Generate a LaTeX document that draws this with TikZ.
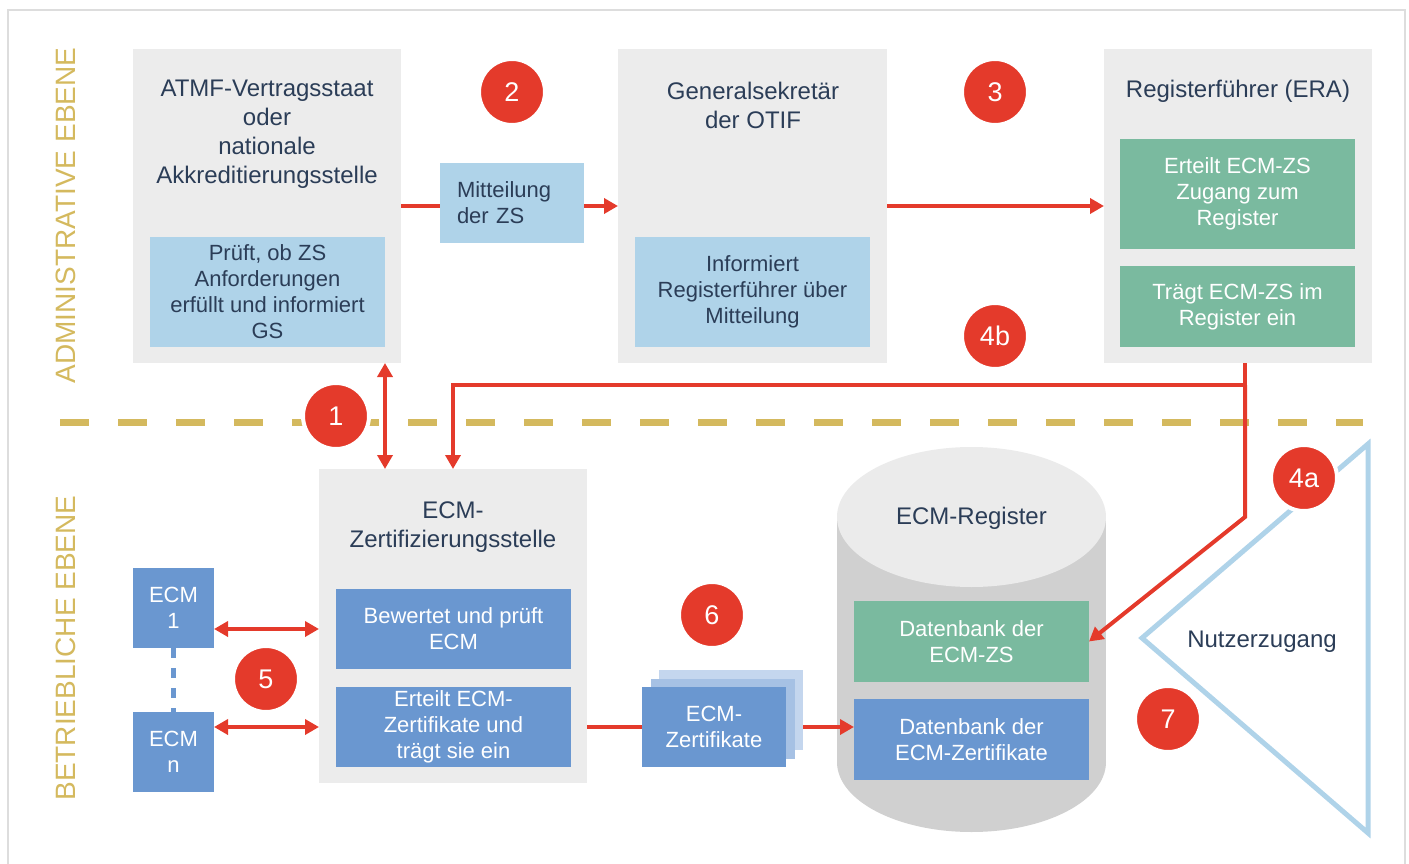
\documentclass[tikz,border=0pt]{standalone}
\usepackage{fontspec}
\setmainfont{Liberation Sans}
\usetikzlibrary{arrows.meta,calc}

\definecolor{boxgrey}{HTML}{ECECEC}
\definecolor{lightblue}{HTML}{AFD3E9}
\definecolor{zsgreen}{HTML}{7ABA9F}
\definecolor{ecmblue}{HTML}{6A97D0}
\definecolor{certmid}{HTML}{A6C1E4}
\definecolor{certback}{HTML}{C4D6EE}
\definecolor{numred}{HTML}{E43A2B}
\definecolor{levelgold}{HTML}{D4B95E}
\definecolor{darktext}{HTML}{2B3D57}
\definecolor{framegrey}{HTML}{DDDDDD}
\definecolor{cylbody}{HTML}{D0D0D0}
\definecolor{cyltop}{HTML}{EBEBEB}

\tikzset{
  every node/.style={inner sep=0pt, outer sep=0pt},
  panel/.style={fill=boxgrey},
  titletext/.style={align=center, text=darktext, font=\fontsize{24}{29}\selectfont},
  infobox/.style={fill=lightblue, align=center, text=darktext, font=\fontsize{22}{26}\selectfont},
  greenbox/.style={fill=zsgreen, align=center, text=white, font=\fontsize{22}{26}\selectfont},
  bluebox/.style={fill=ecmblue, align=center, text=white, font=\fontsize{22}{26}\selectfont},
  levellabel/.style={rotate=90, text=levelgold, font=\fontsize{28}{28}\selectfont},
  num/.style={circle, fill=numred, draw=white, line width=4pt, minimum size=66pt,
    text=white, font=\fontsize{27}{27}\selectfont},
  flow/.style={draw=numred, line width=4pt, -{Triangle[length=14pt,width=15pt]}},
  flowboth/.style={draw=numred, line width=4pt, {Triangle[length=14pt,width=15pt]}-{Triangle[length=14pt,width=15pt]}},
  plainflow/.style={draw=numred, line width=4pt},
}

\begin{document}
\begin{tikzpicture}[x=1pt,y=-1pt]
\useasboundingbox (0,0) rectangle (1409,864);

% outer frame
\draw[framegrey, line width=2pt] (8,10) rectangle (1405,900);

% level labels and separator
\node[levellabel] (lblAdmin) at (66,215.5) {ADMINISTRATIVE EBENE};
\node[levellabel] (lblBetr) at (66,648) {BETRIEBLICHE EBENE};
\coordinate (sepL) at (60,422);
\coordinate (sepR) at (1363,422);
\draw[levelgold, line width=7pt, dash pattern=on 29pt off 29pt] (sepL) -- (sepR);

% administrative level
\node[panel, minimum width=268pt, minimum height=314pt] (atmf) at (267,206) {};
\node[titletext] (atmfT) at (267,134.5) {ATMF-Vertragsstaat\\oder\\nationale\\Akkreditierungsstelle};
\node[infobox, minimum width=235pt, minimum height=110pt] (atmfI) at (267.5,292)
  {Prüft, ob ZS\\Anforderungen\\erfüllt und informiert\\GS};

\node[panel, minimum width=269pt, minimum height=314pt] (gs) at (752.5,206) {};
\node[titletext] (gsT) at (753,105) {Generalsekretär\\der OTIF};
\node[infobox, minimum width=235pt, minimum height=110pt] (gsI) at (752.5,292)
  {Informiert\\Registerführer über\\Mitteilung};

\node[panel, minimum width=268pt, minimum height=314pt] (era) at (1238,206) {};
\node[titletext] (eraT) at (1238,91.5) {Registerführer (ERA)};
\node[greenbox, minimum width=235pt, minimum height=110pt] (eraA) at (1237.5,194)
  {Erteilt ECM-ZS\\Zugang zum\\Register};
\node[greenbox, minimum width=235pt, minimum height=81pt] (eraB) at (1237.5,306.5)
  {Trägt ECM-ZS im\\Register ein};

% flows between the administrative bodies
\draw[flow] (atmf.east) -- (gs.west);
\node[infobox, minimum width=144pt, minimum height=80pt, text width=110pt, align=left] (mitt) at (512,203)
  {Mitteilung\\der ZS};
\draw[flow] (gs.east) -- (era.west);

% operational level
\node[panel, minimum width=268pt, minimum height=314pt] (zs) at (453,626) {};
\node[titletext] (zsT) at (453,527.5) {ECM-\\Zertifizierungsstelle};
\node[bluebox, minimum width=235pt, minimum height=80pt] (zsA) at (453.5,629) {Bewertet und prüft\\ECM};
\node[bluebox, minimum width=235pt, minimum height=80pt] (zsB) at (453.5,727) {Erteilt ECM-\\Zertifikate und\\trägt sie ein};

\node[bluebox, minimum width=81pt, minimum height=80pt] (ecm1) at (173.5,608) {ECM\\1};
\node[bluebox, minimum width=81pt, minimum height=80pt] (ecmn) at (173.5,752) {ECM\\n};
\draw[ecmblue, line width=5pt, dash pattern=on 10pt off 10pt] (ecm1.south) -- (ecmn.north);

% register cylinder
\fill[cylbody] (837,517) rectangle (1106,762);
\fill[cylbody] (971.5,762) ellipse [x radius=134.5, y radius=70];
\fill[cyltop] (971.5,517) ellipse [x radius=134.5, y radius=70];
\node[titletext] (regT) at (971.5,518.5) {ECM-Register};
\node[greenbox, minimum width=235pt, minimum height=81pt] (dbzs) at (971.5,641.5) {Datenbank der\\ECM-ZS};
\node[bluebox, minimum width=235pt, minimum height=81pt] (dbz) at (971.5,739.5) {Datenbank der\\ECM-Zertifikate};

% user access
\coordinate (triTop) at (1368,444);
\coordinate (triLeft) at (1142,638);
\coordinate (triBot) at (1368,833);
\draw[lightblue, line width=5pt] (triTop) -- (triLeft) -- (triBot) -- cycle;
\node[titletext] (nutzer) at (1262,641.5) {Nutzerzugang};

% flows
\draw[flowboth] (atmfI.east |- atmf.south) -- (atmfI.east |- zs.north);
\coordinate (split) at (1245,385);
\coordinate (bend) at (1245,517);
\draw[plainflow] (era.south -| split) -- (split);
\draw[flow] (split) -| (zs.north);
\draw[flow] (split) -- (bend) -- (dbzs.east);
\draw[flowboth] (ecm1.east |- zsA) -- (zs.west |- zsA);
\draw[flowboth] (ecmn.east |- zsB) -- (zs.west |- zsB);
\draw[flow] (zs.east |- zsB) -- (dbz.west |- zsB);

% certificate stack
\node[fill=certback, minimum width=144pt, minimum height=80pt] (certC) at (731,709.5) {};
\node[fill=certmid, minimum width=144pt, minimum height=80pt] (certB) at (723,719) {};
\node[bluebox, minimum width=144pt, minimum height=80pt] (certA) at (714,727) {ECM-\\Zertifikate};

% step numbers
\node[num] (n1) at (336,416) {1};
\node[num] (n2) at (512,92) {2};
\node[num] (n3) at (995,92) {3};
\node[num] (n4b) at (995,336) {4b};
\node[num] (n4a) at (1304,478) {4a};
\node[num] (n5) at (266,679) {5};
\node[num] (n6) at (712,615) {6};
\node[num] (n7) at (1168,719) {7};
\end{tikzpicture}
\end{document}
